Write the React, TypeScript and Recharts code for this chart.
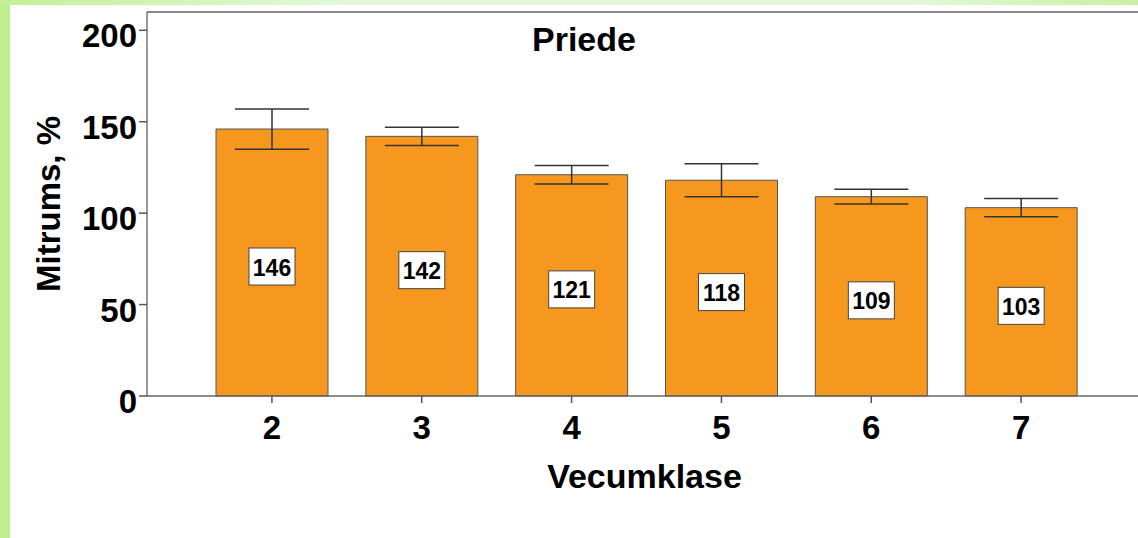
import { BarChart, Bar, XAxis, YAxis, ErrorBar, LabelList, Label, ReferenceLine } from 'recharts';

const classes = ['2', '3', '4', '5', '6', '7'];
const moisture = [146, 142, 121, 118, 109, 103];
const errors = [11, 5, 5, 9, 4, 5];
const yTicks = [0, 50, 100, 150, 200];

const data = classes.map((c, i) => ({ name: c, value: moisture[i], err: errors[i] }));

const FONT = '"Liberation Sans", Arial, sans-serif';

function YTick(props: any) {
  return (
    <text x={props.x} y={props.y + 17} textAnchor="end" fontFamily={FONT} fontSize={33} fontWeight="bold" fill="#000">
      {props.payload.value}
    </text>
  );
}

function XTick(props: any) {
  return (
    <text x={props.x} y={props.y + 34} textAnchor="middle" fontFamily={FONT} fontSize={33} fontWeight="bold" fill="#000">
      {props.payload.value}
    </text>
  );
}

function ValueBox(props: any) {
  const { x, y, width, height, value } = props;
  const cx = x + width / 2;
  const cy = y + height / 2 + 4;
  return (
    <g>
      <rect x={cx - 23} y={cy - 18.5} width={46} height={37} fill="#fff" stroke="#444" strokeWidth={1} />
      <text x={cx} y={cy + 9} textAnchor="middle" fontFamily={FONT} fontSize={23} fontWeight="bold" fill="#000">
        {value}
      </text>
    </g>
  );
}

export default function App() {
  return (
    <div style={{ position: 'absolute', left: 0, top: 0, width: 1138, height: 538, background: '#fff', overflow: 'hidden' }}>
      <div style={{ position: 'absolute', left: 0, top: 0, width: 10, height: 538, background: '#bfee8c' }} />
      <div
        style={{
          position: 'absolute', left: 0, top: 0, width: 1138, height: 5,
          background: 'linear-gradient(to right, #c3f096 0%, #e3f8d9 30%, #e3f8d9 80%, #c8f0a0 100%)',
        }}
      />
      <BarChart width={1138} height={538} data={data} margin={{ top: 12, right: 0, left: 0, bottom: 0 }} style={{ position: 'absolute', left: 0, top: 0 }}>
        <XAxis
          dataKey="name"
          height={142}
          padding={{ left: 50, right: 42 }}
          tickSize={7}
          tickMargin={2}
          tick={<XTick />}
          axisLine={{ stroke: '#666', strokeWidth: 1.5 }}
          tickLine={{ stroke: '#555', strokeWidth: 1.5 }}
        >
          <Label
            content={(p: any) => (
              <text x={p.viewBox.x + p.viewBox.width / 2 + 2} y={488} textAnchor="middle" fontFamily={FONT} fontSize={34} fontWeight="bold" fill="#000">
                Vecumklase
              </text>
            )}
          />
        </XAxis>
        <YAxis
          width={147}
          domain={[0, 210]}
          ticks={yTicks}
          tickSize={8}
          tickMargin={2}
          tick={<YTick />}
          axisLine={{ stroke: '#333', strokeWidth: 1 }}
          tickLine={{ stroke: '#555', strokeWidth: 1.5 }}
        >
          <Label
            content={(p: any) => (
              <text
                x={60}
                y={p.viewBox.y + p.viewBox.height / 2}
                transform={`rotate(-90, 60, ${p.viewBox.y + p.viewBox.height / 2})`}
                textAnchor="middle"
                fontFamily={FONT}
                fontSize={33}
                fontWeight="bold"
                fill="#000"
              >
                Mitrums, %
              </text>
            )}
          />
        </YAxis>
        <ReferenceLine
          y={210}
          stroke="#888"
          strokeWidth={2}
          label={(p: any) => (
            <text x={584} y={51} textAnchor="middle" fontFamily={FONT} fontSize={34} fontWeight="bold" fill="#000">
              Priede
            </text>
          )}
        />
        <Bar dataKey="value" fill="#f7981e" stroke="#555" strokeWidth={1} barSize={112} isAnimationActive={false}>
          <ErrorBar dataKey="err" width={37} stroke="#333" strokeWidth={1.5} direction="y" />
          <LabelList dataKey="value" content={ValueBox} />
        </Bar>
      </BarChart>
    </div>
  );
}
